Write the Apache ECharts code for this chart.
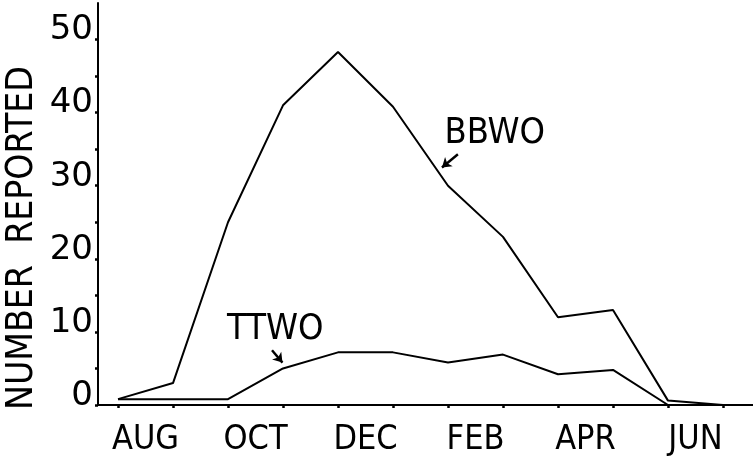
<!DOCTYPE html>
<html>
<head>
<meta charset="utf-8">
<script src="https://cdn.jsdelivr.net/npm/echarts@6/dist/echarts.min.js"></script>
<style>
  html, body { margin: 0; padding: 0; background: #fff; }
  #chart { width: 753px; height: 463px; }
</style>
</head>
<body>
<div id="chart"></div>
<script>
// Monthly counts, sampled at each month boundary from August to the following July
const pointIndex = [0, 1, 2, 3, 4, 5, 6, 7, 8, 9, 10, 11];
const monthBands = ['AUG', 'SEP', 'OCT', 'NOV', 'DEC', 'JAN', 'FEB', 'MAR', 'APR', 'MAY', 'JUN'];
const bbwo = [0.8, 3, 25, 41, 48.3, 40.8, 30, 23, 12, 13, 0.6, 0];
const ttwo = [0.8, 0.8, 0.8, 5, 7.2, 7.2, 5.8, 6.9, 4.2, 4.8, 0, 0];
const yTicks = [0, 10, 20, 30, 40, 50];

const FONT = '"DejaVu Sans Condensed", "DejaVu Sans", sans-serif';
const INK = '#000';

const toPairs = (vals) => pointIndex.map((x, i) => [x, vals[i]]);

const chart = echarts.init(document.getElementById('chart'), null, { renderer: 'canvas' });

const hidden = { show: false };

chart.setOption({
  animation: false,
  backgroundColor: '#fff',
  grid: [
    // frame: both axis lines
    { left: 98, right: 0, top: 3, bottom: 58 },
    // y ticks and labels
    { left: 98, right: 0, top: 405 - 50 * (402 / 55), bottom: 58 },
    // data area
    { left: 118, right: 30, top: 3, bottom: 58 }
  ],
  xAxis: [
    { gridIndex: 0, type: 'value', min: 0, max: 1,
      axisLine: { show: true, lineStyle: { color: INK, width: 2 } },
      axisTick: hidden, axisLabel: hidden, splitLine: hidden },
    { gridIndex: 1, type: 'value', min: 0, max: 1, show: false },
    { gridIndex: 2, type: 'value', min: 0, max: 11, interval: 1, position: 'bottom',
      axisLine: hidden,
      axisTick: { show: true, length: 3, lineStyle: { color: INK, width: 2.5 } },
      axisLabel: hidden, splitLine: hidden },
    { gridIndex: 2, type: 'category', data: monthBands, boundaryGap: true,
      position: 'bottom', offset: 0,
      axisLine: hidden, axisTick: hidden, splitLine: hidden,
      axisLabel: { show: true, interval: 1, margin: 23, color: INK,
        fontFamily: FONT, fontSize: 34, lineHeight: 25, verticalAlign: 'top' } }
  ],
  yAxis: [
    { gridIndex: 0, type: 'value', min: 0, max: 55,
      axisLine: { show: true, lineStyle: { color: INK, width: 2 } },
      axisTick: hidden, axisLabel: hidden, splitLine: hidden },
    { gridIndex: 1, type: 'value', min: 0, max: 50, interval: 5,
      axisLine: hidden, splitLine: hidden,
      axisTick: { show: true, length: 3, lineStyle: { color: INK, width: 2.5 } },
      axisLabel: { show: true, margin: 5, color: INK,
        fontFamily: '"DejaVu Sans", sans-serif', fontSize: 34, lineHeight: 18,
        verticalAlign: 'bottom',
        formatter: (v) => (yTicks.indexOf(v) >= 0 ? String(v) : '') } },
    { gridIndex: 2, type: 'value', min: 0, max: 55, show: false }
  ],
  graphic: [
    { type: 'text', x: 22, y: 238, rotation: Math.PI / 2,
      style: { text: 'NUMBER  REPORTED', fill: INK, font: '37px ' + FONT,
        textAlign: 'center', textVerticalAlign: 'middle' } }
  ],
  series: [
    {
      name: 'BBWO', type: 'line', xAxisIndex: 2, yAxisIndex: 2,
      data: toPairs(bbwo), symbol: 'none', silent: true,
      lineStyle: { color: INK, width: 2 },
      markPoint: {
        silent: true, symbol: 'circle', symbolSize: 0,
        label: { show: true, position: 'inside', color: INK, fontFamily: FONT,
          fontSize: 36, formatter: 'BBWO' },
        data: [{ coord: [6.85, 37.1] }]
      },
      markLine: {
        silent: true, symbol: ['none', 'arrow'], symbolSize: 9,
        label: hidden, lineStyle: { color: INK, width: 2.4, type: 'solid' },
        data: [[{ coord: [6.18, 34.3] }, { coord: [5.89, 32.5] }]]
      }
    },
    {
      name: 'TTWO', type: 'line', xAxisIndex: 2, yAxisIndex: 2,
      data: toPairs(ttwo), symbol: 'none', silent: true,
      lineStyle: { color: INK, width: 2 },
      markPoint: {
        silent: true, symbol: 'circle', symbolSize: 0,
        label: { show: true, position: 'inside', color: INK, fontFamily: FONT,
          fontSize: 36, formatter: 'TTWO' },
        data: [{ coord: [2.86, 10.3] }]
      },
      markLine: {
        silent: true, symbol: ['none', 'arrow'], symbolSize: 9,
        label: hidden, lineStyle: { color: INK, width: 2.4, type: 'solid' },
        data: [[{ coord: [2.8, 7.5] }, { coord: [2.99, 5.8] }]]
      }
    }
  ]
});
</script>
</body>
</html>
